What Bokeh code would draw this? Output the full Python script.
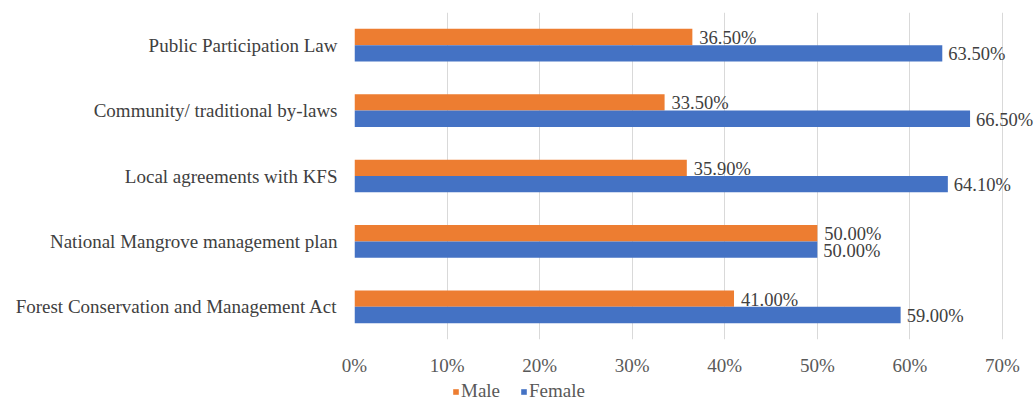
from bokeh.plotting import figure
from bokeh.layouts import column
from bokeh.models import ColumnDataSource, Legend, LegendItem, FixedTicker, Range1d
from bokeh.core.properties import value
from bokeh.embed import file_html
from bokeh.resources import INLINE

categories = ["Public Participation Law", "Community/ traditional by-laws",
              "Local agreements with KFS", "National Mangrove management plan",
              "Forest Conservation and Management Act"]
male = [36.5, 33.5, 35.9, 50.0, 41.0]
female = [63.5, 66.5, 64.1, 50.0, 59.0]
x_ticks = [0, 10, 20, 30, 40, 50, 60, 70]
series_names = ["Male", "Female"]

FONT = "Liberation Serif"
ORANGE = "#ED7D31"
BLUE = "#4472C4"

n = len(categories)
ypos = [n - 1 - i for i in range(n)]
off = 0.125
h = 0.25

ms = ColumnDataSource(dict(y=[v + off for v in ypos], x=male,
                           lab=["%.2f%%" % v for v in male]))
fs = ColumnDataSource(dict(y=[v - off for v in ypos], x=female,
                           lab=["%.2f%%" % v for v in female]))

p = figure(width=1035, height=378, output_backend="svg", toolbar_location=None,
           x_range=Range1d(0, 73.57), y_range=Range1d(-0.5, n - 0.5),
           min_border_left=354, min_border_right=0, min_border_top=12,
           min_border_bottom=38)
p.outline_line_color = None
p.background_fill_color = "white"

p.hbar(y="y", right="x", left=0, height=h, source=ms, color=ORANGE, line_color=None)
p.hbar(y="y", right="x", left=0, height=h, source=fs, color=BLUE, line_color=None)

p.text(x="x", y="y", text="lab", source=ms, x_offset=7, y_offset=1,
       text_font=value(FONT), text_font_size="18.5px", text_color="#404040",
       text_baseline="middle", text_align="left")
p.text(x="x", y="y", text="lab", source=fs, x_offset=6, y_offset=1,
       text_font=value(FONT), text_font_size="18.5px", text_color="#404040",
       text_baseline="middle", text_align="left")

p.xaxis.ticker = FixedTicker(ticks=x_ticks)
p.xaxis.major_label_overrides = {t: "%d%%" % t for t in x_ticks}
p.xaxis.axis_line_color = None
p.xaxis.major_tick_line_color = None
p.xaxis.minor_tick_line_color = None
p.xaxis.major_label_text_font = FONT
p.xaxis.major_label_text_font_size = "19px"
p.xaxis.major_label_text_color = "#595959"
p.xaxis.major_label_standoff = 9

p.yaxis.ticker = FixedTicker(ticks=ypos)
p.yaxis.major_label_overrides = {ypos[i]: categories[i] for i in range(n)}
p.yaxis.axis_line_color = None
p.yaxis.major_tick_line_color = None
p.yaxis.minor_tick_line_color = None
p.yaxis.major_label_text_font = FONT
p.yaxis.major_label_text_font_size = "19px"
p.yaxis.major_label_text_color = "#404040"
p.yaxis.major_label_standoff = 11

p.xgrid.grid_line_color = "#D9D9D9"
p.ygrid.grid_line_color = None

# legend strip below the chart
lg = figure(width=1035, height=24, output_backend="svg", toolbar_location=None,
            x_range=Range1d(0, 1), y_range=Range1d(0, 1),
            min_border_left=354, min_border_right=0, min_border_top=0,
            min_border_bottom=0)
lg.outline_line_color = None
lg.xaxis.visible = False
lg.yaxis.visible = False
lg.xgrid.grid_line_color = None
lg.ygrid.grid_line_color = None
lm = lg.hbar(y=[0.5], right=[0], left=[0], height=0.0, color=ORANGE, line_color=None)
lf = lg.hbar(y=[0.5], right=[0], left=[0], height=0.0, color=BLUE, line_color=None)
legend = Legend(items=[LegendItem(label=series_names[0], renderers=[lm]),
                       LegendItem(label=series_names[1], renderers=[lf])],
                orientation="horizontal", location=(98, 0),
                label_text_font=FONT, label_text_font_size="19px",
                label_text_color="#595959", glyph_width=7, glyph_height=7,
                label_standoff=2, spacing=20, padding=0, margin=0,
                border_line_color=None, background_fill_alpha=0)
lg.add_layout(legend, "center")

layout = column(p, lg, spacing=0)
open("out.html", "w").write(file_html(layout, INLINE))
